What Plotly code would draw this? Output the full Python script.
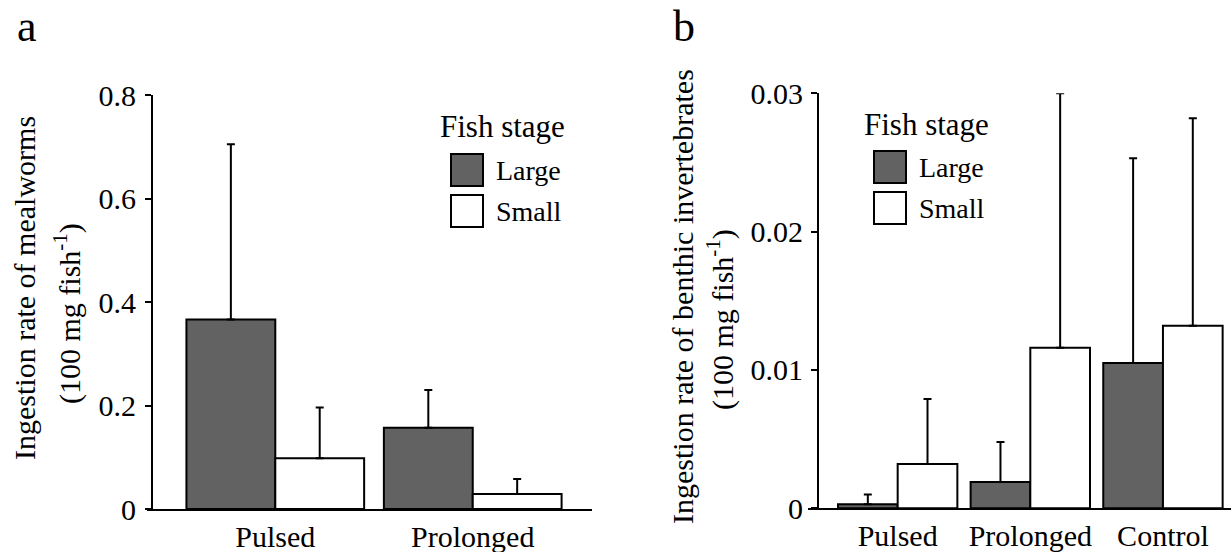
import plotly.graph_objects as go

W, H = 1231, 552

# ---- data (panel a: mealworms) ----
cats_a = ["Pulsed", "Prolonged"]
large_a = [0.366, 0.157]
large_a_err = [0.339, 0.073]
small_a = [0.098, 0.029]
small_a_err = [0.098, 0.029]

# ---- data (panel b: benthic invertebrates) ----
cats_b = ["Pulsed", "Prolonged", "Control"]
large_b = [0.0003, 0.0019, 0.0105]
large_b_err = [0.0007, 0.0029, 0.0148]
small_b = [0.0032, 0.0116, 0.0132]
small_b_err = [0.0047, 0.0184, 0.0150]

ticks_a = [0, 0.2, 0.4, 0.6, 0.8]
ticklabels_a = ["0", "0.2", "0.4", "0.6", "0.8"]
ticks_b = [0, 0.01, 0.02, 0.03]
ticklabels_b = ["0", "0.01", "0.02", "0.03"]

DARK = "#626262"
FONT = "'Liberation Serif', 'Times New Roman', Times, serif"
FS = 30


def px(x):
    return x / W


def py(y):
    return 1 - y / H


def err(vals):
    return dict(type="data", symmetric=False, array=vals, arrayminus=[0] * len(vals),
                color="black", thickness=2, width=4)


fig = go.Figure()
fig.add_trace(go.Bar(x=cats_a, y=large_a, name="Large", marker=dict(color=DARK, line=dict(color="black", width=2)),
                     error_y=err(large_a_err), xaxis="x", yaxis="y", showlegend=False))
fig.add_trace(go.Bar(x=cats_a, y=small_a, name="Small", marker=dict(color="white", line=dict(color="black", width=2)),
                     error_y=err(small_a_err), xaxis="x", yaxis="y", showlegend=False))
fig.add_trace(go.Bar(x=cats_b, y=large_b, name="Large", marker=dict(color=DARK, line=dict(color="black", width=2)),
                     error_y=err(large_b_err), xaxis="x2", yaxis="y2", showlegend=False))
fig.add_trace(go.Bar(x=cats_b, y=small_b, name="Small", marker=dict(color="white", line=dict(color="black", width=2)),
                     error_y=err(small_b_err), xaxis="x2", yaxis="y2", showlegend=False))

axis_common = dict(showgrid=False, zeroline=False, showline=True, linecolor="black", linewidth=2,
                   automargin=False,
                   tickfont=dict(family=FONT, size=FS, color="black"))

fig.update_layout(
    width=W, height=H,
    margin=dict(l=0, r=0, t=0, b=0, autoexpand=False),
    paper_bgcolor="white", plot_bgcolor="white",
    barmode="group", bargap=0.1, bargroupgap=0,
    font=dict(family=FONT, size=FS, color="black"),
    xaxis=dict(domain=[px(147), px(592)], range=[-0.6497, 1.604], anchor="y", ticks="",
               type="category", **axis_common),
    yaxis=dict(domain=[py(509), py(95)], range=[0, 0.8], anchor="free", position=px(152),
               tickvals=ticks_a, ticktext=ticklabels_a, ticks="outside", ticklen=6, tickwidth=2,
               tickcolor="black", ticklabelstandoff=3, **axis_common),
    xaxis2=dict(domain=[px(808), 1.0], range=[-0.676, 2.513], anchor="y2", ticks="",
                type="category", **axis_common),
    yaxis2=dict(domain=[py(508.3), py(93.3)], range=[0, 0.03], anchor="free", position=px(818),
                tickvals=ticks_b, ticktext=ticklabels_b, ticks="outside", ticklen=6, tickwidth=2,
                tickcolor="black", ticklabelstandoff=2, **axis_common),
)

shapes = []
annotations = []


def legend(title_x, title_cy, box_x0, box_x1, boxes, text_x):
    annotations.append(dict(text="Fish stage", x=px(title_x), y=py(title_cy), xref="paper", yref="paper",
                            xanchor="left", yanchor="middle", showarrow=False,
                            font=dict(family=FONT, size=FS + 1, color="black")))
    for (y0, y1, color, label) in boxes:
        shapes.append(dict(type="rect", xref="paper", yref="paper", x0=px(box_x0), x1=px(box_x1),
                           y0=py(y1), y1=py(y0), fillcolor=color, line=dict(color="black", width=2)))
        annotations.append(dict(text=label, x=px(text_x), y=py((y0 + y1) / 2), xref="paper", yref="paper",
                                xanchor="left", yanchor="middle", showarrow=False,
                                font=dict(family=FONT, size=FS - 2, color="black")))


legend(438, 126, 451, 483, [(154, 186, DARK, "Large"), (195, 227, "white", "Small")], 494)
legend(862, 124, 874, 906, [(151, 183, DARK, "Large"), (192, 224, "white", "Small")], 917)


def ytitle(cx, cy, text):
    annotations.append(dict(text=text, x=px(cx), y=py(cy), xref="paper", yref="paper",
                            xanchor="center", yanchor="middle", textangle=-90, showarrow=False,
                            font=dict(family=FONT, size=FS, color="black")))


ytitle(24, 288, "Ingestion rate of mealworms")
ytitle(67, 314, "(100 mg fish<sup>-1</sup>)")
ytitle(683, 297, "Ingestion rate of benthic invertebrates")
ytitle(720, 320, "(100 mg fish<sup>-1</sup>)")

for lab, x in (("a", 15), ("b", 671)):
    annotations.append(dict(text=lab, x=px(x), y=1, xref="paper", yref="paper",
                            xanchor="left", yanchor="top", showarrow=False,
                            font=dict(family=FONT, size=44, color="black")))

fig.update_layout(shapes=shapes, annotations=annotations)
fig.write_html("out.html", config={"displayModeBar": False},
               post_script="document.body.style.margin='0px';document.body.style.overflow='hidden';")
